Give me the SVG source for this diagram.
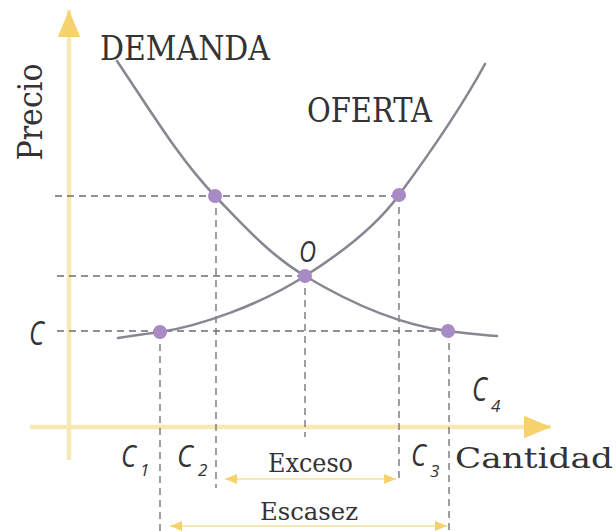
<svg xmlns="http://www.w3.org/2000/svg" width="616" height="531" viewBox="0 0 616 531">
<style>
.axis{stroke:#f6e9b4;fill:none}
.guide{stroke:#6f6b74;stroke-width:1.3;stroke-dasharray:7 5;fill:none}
.curve{stroke:#8a8590;stroke-width:2.6;fill:none;stroke-linecap:round}
.pt{fill:#a88ac4}
.lbl{font-family:"DejaVu Serif","Liberation Serif",serif;fill:#333}
.var{font-family:"Open Sans","Liberation Sans",sans-serif;font-style:italic;fill:#333}
</style>
<defs>
<marker id="ah" viewBox="0 0 6 5" refX="6" refY="2.5" markerWidth="6" markerHeight="5" markerUnits="strokeWidth" orient="auto-start-reverse">
<path d="M0,0 L6,2.5 L0,5 Z" fill="#f5d26c"/>
</marker>
</defs>
<rect width="616" height="531" fill="#ffffff"/>
<g id="axes">
<line class="axis" x1="69" y1="460" x2="69" y2="10" stroke-width="4.5" marker-end="url(#ah)"/>
<line class="axis" x1="30" y1="427" x2="551" y2="427" stroke-width="4.5" marker-end="url(#ah)"/>
</g>
<g id="connectors">
<line class="guide" x1="55" y1="196" x2="399" y2="196"/>
<line class="guide" x1="57" y1="276" x2="305" y2="276"/>
<line class="guide" x1="57" y1="331" x2="448" y2="331"/>
<line class="guide" x1="160" y1="332" x2="160" y2="531"/>
<line class="guide" x1="216" y1="196" x2="216" y2="488"/>
<line class="guide" x1="305" y1="276" x2="305" y2="437"/>
<line class="guide" x1="399" y1="195" x2="399" y2="481"/>
<line class="guide" x1="449" y1="331" x2="449" y2="531"/>
<line class="axis" x1="225" y1="479" x2="396" y2="479" stroke-width="2" marker-start="url(#ah)" marker-end="url(#ah)"/>
<line class="axis" x1="170" y1="526" x2="447" y2="526" stroke-width="2" marker-start="url(#ah)" marker-end="url(#ah)"/>
</g>
<g id="demanda">
<path class="curve" d="M117,61 C150,110 180,160 215,196 C245,227 270,255 305,276 C350,303 400,325 448,331 C465,333 480,335 497,336"/>
<text class="lbl" x="100" y="60" font-size="34" textLength="170" lengthAdjust="spacingAndGlyphs">DEMANDA</text>
</g>
<g id="oferta">
<path class="curve" d="M118,338 C130,336 145,334 160,332 C200,326 260,305 305,276 C340,254 375,228 399,195 C430,153 460,110 485,64"/>
<text class="lbl" x="307" y="122" font-size="34" textLength="125" lengthAdjust="spacingAndGlyphs">OFERTA</text>
</g>
<g id="points">
<circle class="pt" cx="215" cy="196" r="7"/>
<circle class="pt" cx="399" cy="195" r="7"/>
<circle class="pt" cx="305" cy="276" r="7"/>
<circle class="pt" cx="160" cy="332" r="7"/>
<circle class="pt" cx="448" cy="331" r="7"/>
</g>
<g id="labels">
<text class="lbl" transform="translate(42,112) rotate(-90)" text-anchor="middle" font-size="34" textLength="97" lengthAdjust="spacingAndGlyphs">Precio</text>
<text class="lbl" x="455" y="468" font-size="28" textLength="158" lengthAdjust="spacingAndGlyphs">Cantidad</text>
<text class="lbl" x="268" y="472" font-size="26" textLength="85" lengthAdjust="spacingAndGlyphs">Exceso</text>
<text class="lbl" x="260" y="520" font-size="25" textLength="98" lengthAdjust="spacingAndGlyphs">Escasez</text>
<text class="var" x="299" y="262" font-size="30" textLength="17" lengthAdjust="spacingAndGlyphs">O</text>
<text class="var" x="29" y="345" font-size="32" textLength="15" lengthAdjust="spacingAndGlyphs">C</text>
<text class="var" x="121" y="467" font-size="31" textLength="15" lengthAdjust="spacingAndGlyphs">C</text>
<text class="var" x="140" y="476" font-size="17">1</text>
<text class="var" x="177" y="467" font-size="31" textLength="16" lengthAdjust="spacingAndGlyphs">C</text>
<text class="var" x="198" y="476" font-size="17">2</text>
<text class="var" x="411" y="466" font-size="31" textLength="15" lengthAdjust="spacingAndGlyphs">C</text>
<text class="var" x="430" y="477" font-size="17">3</text>
<text class="var" x="472" y="401" font-size="32" textLength="15" lengthAdjust="spacingAndGlyphs">C</text>
<text class="var" x="491" y="412" font-size="17">4</text>
</g>
</svg>
